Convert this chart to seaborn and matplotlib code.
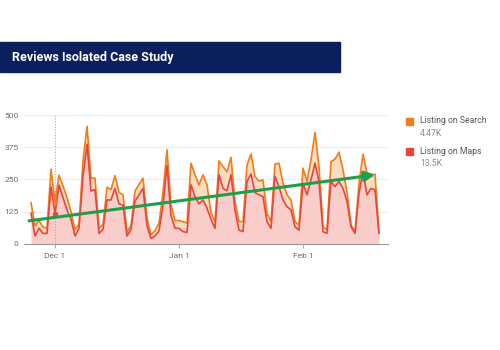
import pandas as pd
import seaborn as sns
import matplotlib.pyplot as plt
from matplotlib.patches import Rectangle

# Daily values (Nov 25 -> Feb 20)
start_date = "2023-11-25"
maps_total = [120, 30, 60, 40, 40, 220, 117, 228, 180, 130, 95, 30, 60, 261, 387,
              205, 210, 40, 55, 170, 170, 215, 155, 150, 30, 55, 165, 190, 215, 70,
              20, 30, 50, 150, 305, 110, 60, 60, 47, 44, 229, 183, 155, 170, 138,
              95, 60, 268, 215, 206, 268, 131, 53, 47, 242, 271, 199, 190, 183, 86,
              60, 261, 222, 170, 144, 131, 66, 53, 235, 190, 248, 313, 242, 47, 40,
              242, 222, 242, 215, 165, 66, 40, 196, 281, 190, 215, 209, 40]
search_stacked = [160, 70, 90, 65, 60, 290, 165, 266, 225, 180, 125, 55, 75, 322, 457,
                  255, 255, 60, 75, 220, 210, 265, 200, 190, 45, 70, 205, 230, 255, 100,
                  35, 50, 80, 200, 365, 150, 90, 90, 86, 80, 313, 268, 229, 268, 229,
                  120, 85, 322, 300, 280, 336, 164, 86, 86, 306, 349, 261, 244, 248, 118,
                  86, 310, 313, 235, 190, 170, 86, 73, 294, 242, 326, 432, 300, 66, 53,
                  319, 329, 356, 287, 200, 73, 47, 235, 348, 274, 265, 271, 40]
trend_values = [89, 268]
trend_days = [-0.5, 86]
hover_day = 6

series_names = ["Listing on Search", "Listing on Maps"]
series_totals = ["4.47K", "13.5K"]
y_ticks = [0, 125, 250, 375, 500]
x_tick_labels = ["Dec 1", "Jan 1", "Feb 1"]
x_tick_dates = ["2023-12-01", "2024-01-01", "2024-02-01"]

ORANGE = "#ef7d1a"
RED = "#e8453c"
GRID = "#ececec"
TXT = "#6b6b6b"

dates = pd.date_range(start_date, periods=len(maps_total), freq="D")
df = pd.DataFrame({"date": dates, "maps": maps_total, "search": search_stacked})

sns.set_style("white")
plt.rcParams["font.family"] = ["Roboto", "DejaVu Sans"]

fig = plt.figure(figsize=(5, 3.5), dpi=100)
ax = fig.add_axes([0.048, 0.3037, 0.728, 0.3673])

# filled areas
ax.fill_between(df["date"], 0, df["maps"], color="#f9cdca", lw=0, zorder=1)
ax.fill_between(df["date"], df["maps"], df["search"], color="#fcdcc0", lw=0, zorder=1)

sns.lineplot(data=df, x="date", y="search", color=ORANGE, lw=1.2, ax=ax, zorder=3)
sns.lineplot(data=df, x="date", y="maps", color=RED, lw=1.2, ax=ax, zorder=3)

# hover line and markers on Dec 1
hd = dates[hover_day]
ax.axvline(hd, color="#aaaaaa", lw=0.8, ls=(0, (1, 1.5)), zorder=2)
ax.plot([hd], [search_stacked[hover_day]], "o", color=ORANGE, ms=3, zorder=4)
ax.plot([hd], [maps_total[hover_day]], "o", color=RED, ms=3, zorder=4)

# trend arrow
t0 = dates[0] + pd.Timedelta(days=trend_days[0])
t1 = dates[0] + pd.Timedelta(days=trend_days[1])
ax.annotate("", xy=(t1, trend_values[1]), xytext=(t0, trend_values[0]),
            arrowprops=dict(arrowstyle="-|>,head_length=0.6,head_width=0.3",
                            color="#1f9e48", lw=2.2, shrinkA=0, shrinkB=0), zorder=5)

ax.set_ylim(0, 500)
ax.set_xlim(dates[0] - pd.Timedelta(days=1.75), dates[-1] + pd.Timedelta(days=2.25))
ax.set_yticks(y_ticks)
ax.set_yticklabels([str(v) for v in y_ticks])
ax.set_xticks(pd.to_datetime(x_tick_dates))
ax.set_xticklabels(x_tick_labels)
ax.set_xlabel("")
ax.set_ylabel("")
ax.grid(axis="y", color=GRID, lw=0.8)
ax.grid(axis="x", visible=False)
for s in ["top", "right", "left"]:
    ax.spines[s].set_visible(False)
ax.spines["bottom"].set_color("#9a9a9a")
ax.spines["bottom"].set_linewidth(0.8)
ax.tick_params(axis="y", length=0, pad=4, labelsize=6, labelcolor=TXT)
ax.tick_params(axis="x", length=3, width=0.6, color="#9a9a9a", pad=4,
               labelsize=6, labelcolor=TXT, bottom=True)

# title banner
fig.patches.append(Rectangle((0, 0.794), 0.68, 0.086, transform=fig.transFigure,
                             color="#0a1f5c", zorder=0))
fig.text(0.024, 0.837, "Reviews Isolated Case Study", color="white",
         fontsize=9, fontweight="bold", va="center", ha="left")

# legend
for i, (name, total, col) in enumerate(zip(series_names, series_totals, [ORANGE, RED])):
    y = 1 - (121 + 30 * i) / 350
    fig.patches.append(Rectangle((0.812, y - 0.011), 0.014, 0.02,
                                 transform=fig.transFigure, color=col))
    fig.text(0.84, y, name, fontsize=6.2, color="#555555", va="center")
    fig.text(0.84, y - 0.035, total, fontsize=6.2, color="#8a8a8a", va="center")

plt.savefig("out.png", dpi=100)
